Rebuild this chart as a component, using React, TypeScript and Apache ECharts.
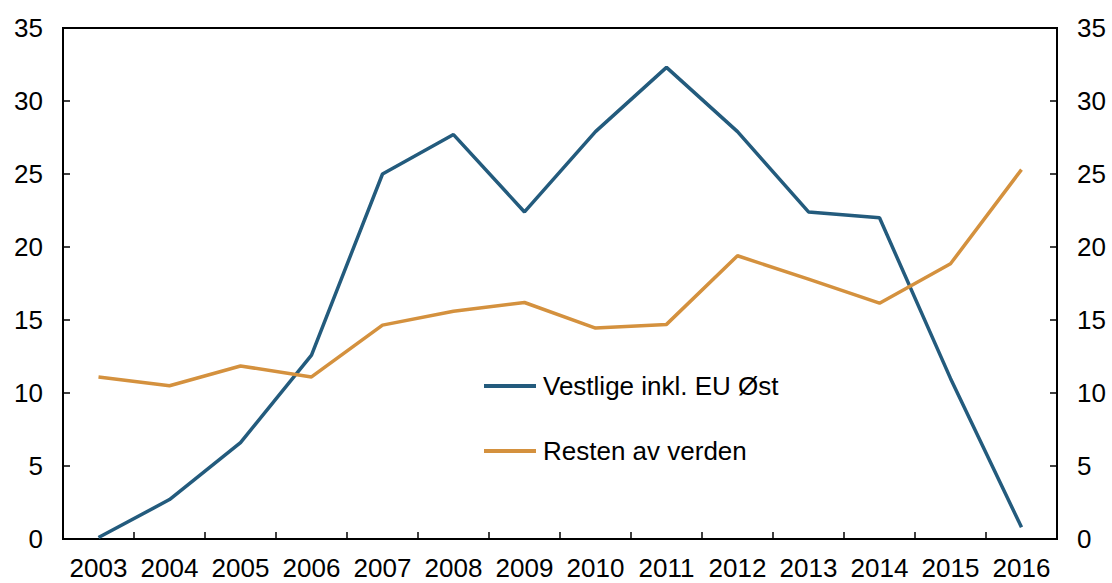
import React, { useEffect, useRef } from "react";
import * as echarts from "echarts";

const years = ["2003","2004","2005","2006","2007","2008","2009","2010","2011","2012","2013","2014","2015","2016"];
const vestlige = [0.1, 2.7, 6.6, 12.6, 25.0, 27.7, 22.4, 27.9, 32.3, 27.9, 22.4, 22.0, 11.0, 0.8];
const resten = [11.1, 10.5, 11.85, 11.1, 14.65, 15.6, 16.2, 14.45, 14.7, 19.4, 17.8, 16.15, 18.85, 25.3];
const seriesNames = ["Vestlige inkl. EU Øst", "Resten av verden"];
const colors = ["#235b7d", "#d4913e"];

export default function App() {
  const ref = useRef<HTMLDivElement>(null);
  useEffect(() => {
    if (!ref.current) return;
    const chart = echarts.init(ref.current, null, { renderer: "svg" });
    const font = { fontFamily: "Liberation Sans, Arial, sans-serif", fontSize: 26, color: "#000" };
    const yAxisBase = {
      type: "value" as const,
      min: 0,
      max: 35,
      interval: 5,
      splitLine: { show: false },
      axisLine: { show: true, lineStyle: { color: "#000", width: 2 } },
      axisTick: { show: true, inside: true, length: 7, lineStyle: { color: "#000", width: 1.5 } },
      axisLabel: { ...font, margin: 20 },
    };
    chart.setOption({
      animation: false,
      grid: { left: 63, right: 55, top: 28, bottom: 44, show: true, borderColor: "#000", borderWidth: 2 },
      legend: {
        orient: "vertical",
        left: 484,
        top: 373,
        padding: 0,
        itemGap: 39,
        itemWidth: 52,
        itemHeight: 4,
        icon: "rect",
        textStyle: { ...font, padding: [0, 0, 0, 2] },
        data: seriesNames,
      },
      xAxis: {
        type: "category",
        data: years,
        boundaryGap: true,
        axisLine: { lineStyle: { color: "#000", width: 2 } },
        axisTick: { show: true, inside: true, length: 7, interval: 0, lineStyle: { color: "#000", width: 1.5 } },
        axisLabel: { ...font, margin: 16, interval: 0, hideOverlap: false },
      },
      yAxis: [
        { ...yAxisBase, position: "left" },
        { ...yAxisBase, position: "right" },
      ],
      series: [
        {
          name: seriesNames[0],
          type: "line",
          data: vestlige,
          symbol: "none",
          lineStyle: { color: colors[0], width: 3.5 },
          itemStyle: { color: colors[0] },
        },
        {
          name: seriesNames[1],
          type: "line",
          data: resten,
          symbol: "none",
          lineStyle: { color: colors[1], width: 3.5 },
          itemStyle: { color: colors[1] },
        },
      ],
    });
    return () => chart.dispose();
  }, []);
  return <div ref={ref} style={{ width: 1112, height: 583, position: "absolute", left: 0, top: 0 }} />;
}
